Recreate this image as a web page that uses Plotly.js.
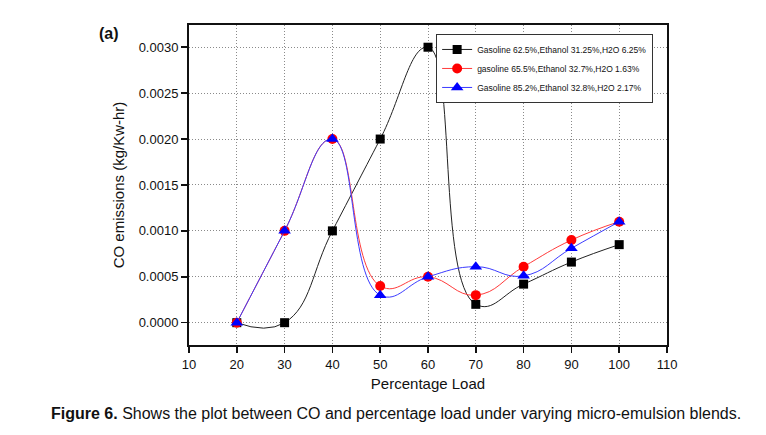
<!DOCTYPE html>
<html><head><meta charset="utf-8">
<script src="https://cdn.plot.ly/plotly-3.0.1.min.js"></script>
<style>html,body{margin:0;padding:0;background:#fff;}#chart{width:766px;height:435px;}</style>
</head><body><div id="chart"></div>
<script>
const loads = [20, 30, 40, 50, 60, 70, 80, 90, 100];
const blendA = [0.0000, 0.0000, 0.0010, 0.0020, 0.0030, 0.00020, 0.00042, 0.00066, 0.00085];
const blendB = [0.0000, 0.0010, 0.0020, 0.00040, 0.00050, 0.00030, 0.00061, 0.00090, 0.00110];
const blendC = [0.0000, 0.0010, 0.0020, 0.00030, 0.00050, 0.00061, 0.00051, 0.00081, 0.00110];
const names = ['Gasoline 62.5%,Ethanol 31.25%,H2O 6.25%', 'gasoline 65.5%,Ethanol 32.7%,H2O 1.63%', 'Gasoline 85.2%,Ethanol 32.8%,H2O 2.17%'];
const xTicks = [10, 20, 30, 40, 50, 60, 70, 80, 90, 100, 110];

const traces = [
  {x: loads, y: blendA, name: names[0], mode: 'lines+markers', line: {shape: 'spline', smoothing: 1.3, color: '#222', width: 1}, marker: {symbol: 'square', size: 9, color: '#000'}},
  {x: loads, y: blendB, name: names[1], mode: 'lines+markers', line: {shape: 'spline', smoothing: 1.3, color: '#ff3b3b', width: 1}, marker: {symbol: 'circle', size: 10, color: '#ff0000'}},
  {x: loads, y: blendC, name: names[2], mode: 'lines+markers', line: {shape: 'spline', smoothing: 1.3, color: '#3b3bff', width: 1}, marker: {symbol: 'triangle-up', size: 11, color: '#0000ff'}}
];

const layout = {
  width: 766, height: 435,
  margin: {l: 189, r: 99, t: 25, b: 90},
  paper_bgcolor: '#fff', plot_bgcolor: '#fff',
  font: {family: 'Liberation Sans, Arial, sans-serif', color: '#111', size: 13},
  showlegend: true,
  legend: {x: 0.971, y: 0.972, xanchor: 'right', yanchor: 'top', bgcolor: '#fff', bordercolor: '#333', borderwidth: 1, font: {size: 8.5, color: '#111'}, tracegroupgap: 0, itemwidth: 30},
  xaxis: {
    range: [10, 110], tickvals: xTicks, ticktext: xTicks.map(String), ticks: 'outside', ticklen: 6, tickwidth: 1.5, tickcolor: '#111',
    showline: true, linecolor: '#111', linewidth: 2, mirror: true,
    showgrid: true, gridcolor: '#8a8a8a', griddash: '1px,2px', gridwidth: 1, zeroline: false,
    title: {text: 'Percentage Load', font: {size: 15}, standoff: 8}
  },
  yaxis: {
    range: [-0.000243, 0.003242], dtick: 0.0005, tick0: 0, tickformat: '.4f', ticks: 'outside', ticklen: 6, tickwidth: 1.5, tickcolor: '#111',
    showline: true, linecolor: '#111', linewidth: 2, mirror: true,
    showgrid: true, gridcolor: '#8a8a8a', griddash: '1px,2px', gridwidth: 1, zeroline: false,
    title: {text: 'CO emissions (kg/Kw-hr)', font: {size: 15}, standoff: 10}
  },
  annotations: [
    {text: '<b>(a)</b>', xref: 'paper', yref: 'paper', x: -0.192, y: 0.975, xanchor: 'left', yanchor: 'middle', showarrow: false, font: {size: 16, color: '#111'}},
    {text: '<b>Figure 6.</b> Shows the plot between CO and percentage load under varying micro-emulsion blends.', xref: 'paper', yref: 'paper', x: 0.433, y: -0.2125, xanchor: 'center', yanchor: 'middle', showarrow: false, font: {size: 16, color: '#111', family: 'Liberation Sans, Arial, sans-serif'}}
  ]
};
Plotly.newPlot('chart', traces, layout, {displayModeBar: false, staticPlot: true});
</script>
</body></html>
